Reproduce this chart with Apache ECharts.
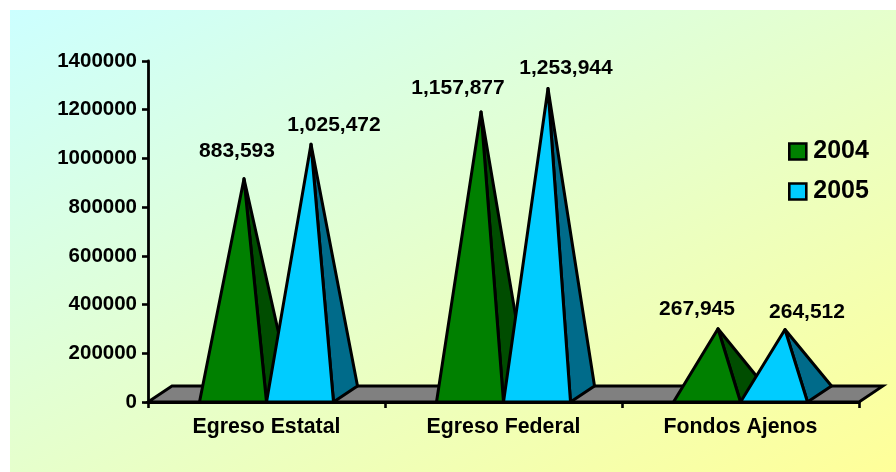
<!DOCTYPE html>
<html><head><meta charset="utf-8">
<style>html,body{margin:0;padding:0;background:#fff}#c{width:896px;height:472px}</style>
<script src="https://cdn.jsdelivr.net/npm/echarts@6/dist/echarts.min.js"></script>
</head><body><div id="c"></div>
<script>
const categories = ['Egreso Estatal', 'Egreso Federal', 'Fondos Ajenos'];
const values2004 = [883593, 1157877, 267945];
const values2005 = [1025472, 1253944, 264512];
const seriesNames = ['2004', '2005'];

const FONT = '"Liberation Sans", Arial, sans-serif';
const DEPTH_X = 24, DEPTH_Y = 16, BAR_W = 67;
const faces = [['#008000', '#004d00'], ['#00ccff', '#006b8a']];
const labelShift = [
  [[-7, -28], [-23, -24], [-21, -20]],
  [[23, -19], [18, -20], [22, -17]]
];

function pyramid(si) {
  return function (params, api) {
    const idx = api.value(0), val = api.value(1);
    const base = api.coord([idx, 0]);
    const top = api.coord([idx, val]);
    const xl = base[0] + (si === 0 ? -BAR_W : 0);
    const xr = xl + BAR_W;
    const y0 = base[1];
    const ax = (xl + xr) / 2 + DEPTH_X / 2 - 1;
    const ay = top[1] - DEPTH_Y / 2;
    const stroke = { stroke: '#000', lineWidth: 3, lineJoin: 'round' };
    const sh = labelShift[si][params.dataIndex];
    return { type: 'group', children: [
      { type: 'polygon', shape: { points: [[xr, y0], [xr + DEPTH_X, y0 - DEPTH_Y], [ax, ay]] },
        style: Object.assign({ fill: faces[si][1] }, stroke) },
      { type: 'polygon', shape: { points: [[xl, y0], [xr, y0], [ax, ay]] },
        style: Object.assign({ fill: faces[si][0] }, stroke) },
      { type: 'text', style: { x: ax + sh[0], y: ay + sh[1], text: val.toLocaleString('en-US'),
        fill: '#000', font: 'bold 21px ' + FONT, align: 'center', verticalAlign: 'middle' } }
    ] };
  };
}
function floor(params, api) {
  const cs = params.coordSys;
  const l = cs.x, r = cs.x + cs.width, b = cs.y + cs.height;
  return { type: 'polygon', shape: { points: [[l, b], [l + DEPTH_X, b - DEPTH_Y], [r + DEPTH_X, b - DEPTH_Y], [r, b]] },
    style: { fill: '#808080', stroke: '#000', lineWidth: 2.8 } };
}
const chart = echarts.init(document.getElementById('c'), null, { renderer: 'canvas' });
chart.setOption({
  animation: false,
  graphic: [{ type: 'rect', z: -10, silent: true, shape: { x: 10, y: 10, width: 886, height: 462 },
    style: { fill: new echarts.graphic.LinearGradient(264, -122, 642, 604, [
      { offset: 0, color: '#ccffff' }, { offset: 1, color: '#ffff99' }], true) } }],
  grid: { left: 148, right: 37, top: 61, height: 341, containLabel: false },
  legend: { orient: 'vertical', left: 783, top: 134, itemWidth: 17, itemHeight: 16, itemGap: 15, itemStyle: { borderColor: '#000', borderWidth: 2.6 },
    selectedMode: false, icon: 'rect', textStyle: { fontFamily: FONT, fontWeight: 'bold', fontSize: 25, color: '#000', padding: [0, 0, 0, 2] },
    data: seriesNames },
  xAxis: { type: 'category', data: categories, boundaryGap: true,
    axisLine: { lineStyle: { color: '#000', width: 2.8 } },
    axisTick: { show: true, alignWithLabel: false, length: 6, lineStyle: { color: '#000', width: 2.6 } },
    axisLabel: { color: '#000', fontFamily: FONT, fontWeight: 'bold', fontSize: 21.3, margin: 15 } },
  yAxis: { type: 'value', min: 0, max: 1400000, interval: 200000,
    splitLine: { show: false },
    axisLine: { show: true, lineStyle: { color: '#000', width: 2.8 } },
    axisTick: { show: true, length: 6, lineStyle: { color: '#000', width: 2.6 } },
    axisLabel: { color: '#000', fontFamily: FONT, fontWeight: 'bold', fontSize: 20.5, margin: 11, formatter: v => String(v) } },
  series: [
    { type: 'custom', silent: true, z: 1, renderItem: floor, data: [[0, 0]], encode: { x: 0, y: 1 }, clip: false, legendHoverLink: false },
    { name: seriesNames[0], type: 'custom', z: 2, clip: false, renderItem: pyramid(0),
      itemStyle: { color: faces[0][0], borderColor: '#000', borderWidth: 2.6 },
      data: values2004.map((v, i) => [i, v]), encode: { x: 0, y: 1 } },
    { name: seriesNames[1], type: 'custom', z: 3, clip: false, renderItem: pyramid(1),
      itemStyle: { color: faces[1][0], borderColor: '#000', borderWidth: 2.6 },
      data: values2005.map((v, i) => [i, v]), encode: { x: 0, y: 1 } }
  ]
});
</script></body></html>
